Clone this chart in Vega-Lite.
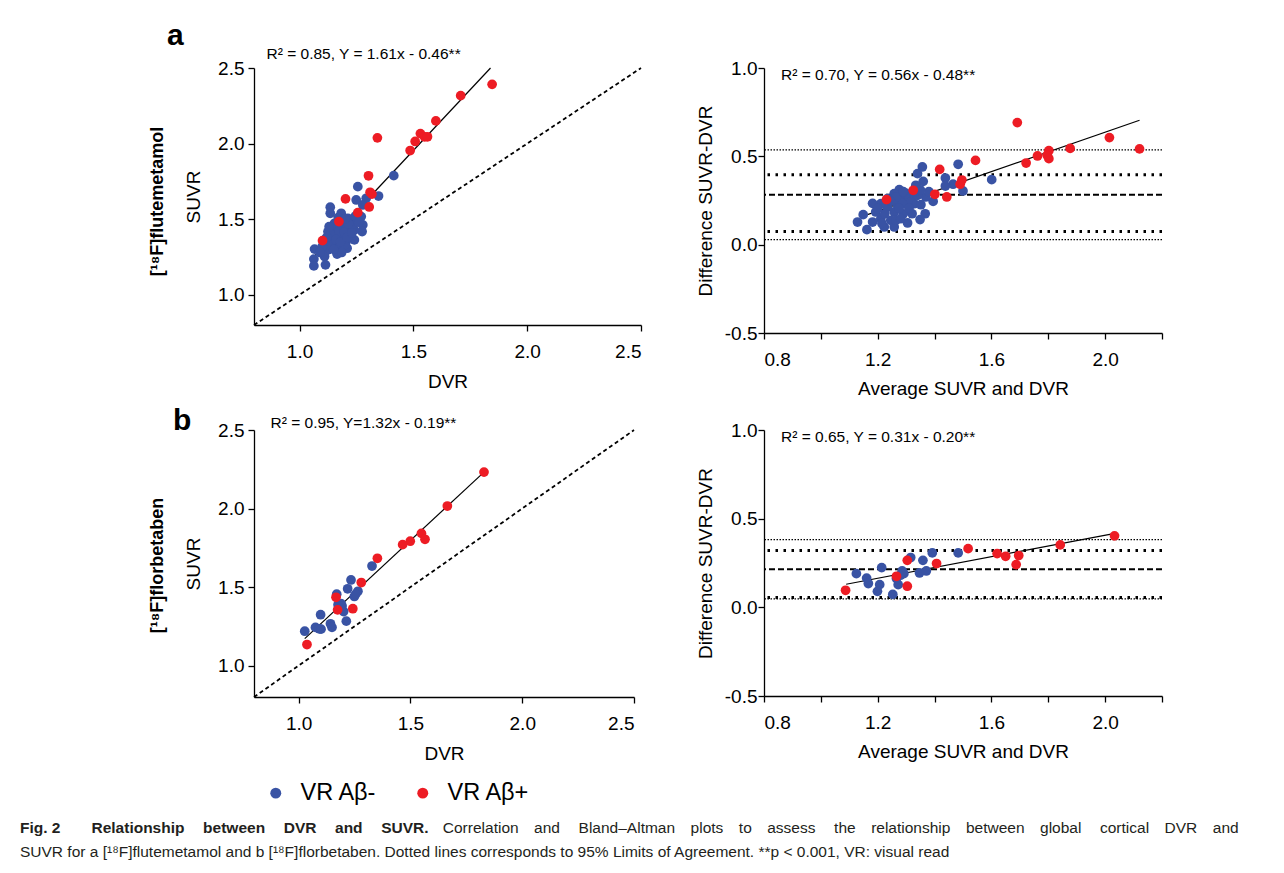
{
  "$schema": "https://vega.github.io/schema/vega-lite/v6.json",
  "background": "white",
  "padding": {"left": 20, "top": 21, "right": 20, "bottom": 8},
  "title": {
    "text": "Fig.\u00a02\u2003\u2003Relationship\u2003\u2009between\u2003\u2009DVR\u2003\u2009and\u2003\u2009SUVR.",
    "subtitle": [
      "\u200b\u2003\u2003\u2003\u2003\u2003\u2003\u2003\u2003\u2003\u2003\u2003\u2003\u2003\u2003\u2003\u2003\u2003\u2003\u2003\u2003\u2003\u2003\u2003\u2003\u2003\u2003\u2003\u00a0Correlation\u2003and\u2003\u2009Bland–Altman\u2003plots\u2003to\u2003assess\u2003\u2009the\u2003relationship\u2003between\u2003global\u2003\u2009cortical\u2003DVR\u2003and",
      "SUVR for a [¹⁸F]flutemetamol and b [¹⁸F]florbetaben. Dotted lines corresponds to 95% Limits of Agreement. **p < 0.001, VR: visual read"
    ],
    "orient": "bottom",
    "anchor": "start",
    "frame": "bounds",
    "dx": -128,
    "offset": 16,
    "font": "Liberation Sans",
    "fontSize": 15.5,
    "fontWeight": "bold",
    "color": "#231f20",
    "subtitleFont": "Liberation Sans",
    "subtitleFontSize": 15.5,
    "subtitleColor": "#231f20",
    "subtitlePadding": -15.5,
    "subtitleLineHeight": 24
  },
  "config": {
    "view": {"stroke": null},
    "font": "Liberation Sans",
    "axis": {
      "grid": false,
      "domainColor": "black",
      "tickColor": "black",
      "labelColor": "black",
      "titleColor": "black",
      "domainWidth": 1.3,
      "tickWidth": 1.3,
      "tickSize": 6,
      "labelFontSize": 19,
      "titleFontSize": 19,
      "titleFontWeight": "normal",
      "labelFont": "Liberation Sans",
      "titleFont": "Liberation Sans"
    }
  },
  "datasets": {
    "identity": [{"dvr": 0.8, "suvr": 0.8}, {"dvr": 2.5, "suvr": 2.5}],
    "regA": [{"dvr": 1.07, "suvr": 1.263}, {"dvr": 1.839, "suvr": 2.5}],
    "regB": [{"dvr": 1.027, "suvr": 1.172}, {"dvr": 1.829, "suvr": 2.232}],
    "regBAA": [{"avg": 1.164, "diff": 0.170}, {"avg": 2.121, "diff": 0.704}],
    "regBAB": [{"avg": 1.089, "diff": 0.130}, {"avg": 2.030, "diff": 0.416}],
    "hlA": [
      {"diff": 0.536, "kind": "ci"}, {"diff": 0.396, "kind": "loa"}, {"diff": 0.283, "kind": "mean"},
      {"diff": 0.075, "kind": "loa"}, {"diff": 0.028, "kind": "ci"}
    ],
    "hlB": [
      {"diff": 0.382, "kind": "ci"}, {"diff": 0.320, "kind": "loa"}, {"diff": 0.215, "kind": "mean"},
      {"diff": 0.055, "kind": "loa"}, {"diff": 0.048, "kind": "ci"}
    ],
    "scatA": [
      {"dvr": 1.414, "suvr": 1.788, "vr": "VR Aβ-"}, {"dvr": 1.256, "suvr": 1.715, "vr": "VR Aβ-"},
      {"dvr": 1.249, "suvr": 1.627, "vr": "VR Aβ-"}, {"dvr": 1.293, "suvr": 1.638, "vr": "VR Aβ-"},
      {"dvr": 1.347, "suvr": 1.653, "vr": "VR Aβ-"}, {"dvr": 1.278, "suvr": 1.594, "vr": "VR Aβ-"},
      {"dvr": 1.135, "suvr": 1.579, "vr": "VR Aβ-"}, {"dvr": 1.135, "suvr": 1.539, "vr": "VR Aβ-"},
      {"dvr": 1.183, "suvr": 1.539, "vr": "VR Aβ-"}, {"dvr": 1.271, "suvr": 1.517, "vr": "VR Aβ-"},
      {"dvr": 1.234, "suvr": 1.495, "vr": "VR Aβ-"}, {"dvr": 1.278, "suvr": 1.462, "vr": "VR Aβ-"},
      {"dvr": 1.198, "suvr": 1.462, "vr": "VR Aβ-"}, {"dvr": 1.275, "suvr": 1.418, "vr": "VR Aβ-"},
      {"dvr": 1.125, "suvr": 1.418, "vr": "VR Aβ-"}, {"dvr": 1.154, "suvr": 1.429, "vr": "VR Aβ-"},
      {"dvr": 1.183, "suvr": 1.396, "vr": "VR Aβ-"}, {"dvr": 1.241, "suvr": 1.363, "vr": "VR Aβ-"},
      {"dvr": 1.205, "suvr": 1.352, "vr": "VR Aβ-"}, {"dvr": 1.147, "suvr": 1.352, "vr": "VR Aβ-"},
      {"dvr": 1.110, "suvr": 1.363, "vr": "VR Aβ-"}, {"dvr": 1.169, "suvr": 1.308, "vr": "VR Aβ-"},
      {"dvr": 1.209, "suvr": 1.308, "vr": "VR Aβ-"}, {"dvr": 1.125, "suvr": 1.297, "vr": "VR Aβ-"},
      {"dvr": 1.066, "suvr": 1.302, "vr": "VR Aβ-"}, {"dvr": 1.110, "suvr": 1.253, "vr": "VR Aβ-"},
      {"dvr": 1.165, "suvr": 1.269, "vr": "VR Aβ-"}, {"dvr": 1.063, "suvr": 1.236, "vr": "VR Aβ-"},
      {"dvr": 1.063, "suvr": 1.191, "vr": "VR Aβ-"}, {"dvr": 1.114, "suvr": 1.198, "vr": "VR Aβ-"},
      {"dvr": 1.147, "suvr": 1.385, "vr": "VR Aβ-"}, {"dvr": 1.169, "suvr": 1.451, "vr": "VR Aβ-"},
      {"dvr": 1.220, "suvr": 1.440, "vr": "VR Aβ-"}, {"dvr": 1.241, "suvr": 1.429, "vr": "VR Aβ-"},
      {"dvr": 1.190, "suvr": 1.495, "vr": "VR Aβ-"}, {"dvr": 1.212, "suvr": 1.506, "vr": "VR Aβ-"},
      {"dvr": 1.154, "suvr": 1.473, "vr": "VR Aβ-"}, {"dvr": 1.234, "suvr": 1.462, "vr": "VR Aβ-"},
      {"dvr": 1.132, "suvr": 1.330, "vr": "VR Aβ-"}, {"dvr": 1.198, "suvr": 1.330, "vr": "VR Aβ-"},
      {"dvr": 1.227, "suvr": 1.396, "vr": "VR Aβ-"}, {"dvr": 1.140, "suvr": 1.400, "vr": "VR Aβ-"},
      {"dvr": 1.175, "suvr": 1.420, "vr": "VR Aβ-"}, {"dvr": 1.160, "suvr": 1.365, "vr": "VR Aβ-"},
      {"dvr": 1.195, "suvr": 1.415, "vr": "VR Aβ-"}, {"dvr": 1.215, "suvr": 1.470, "vr": "VR Aβ-"},
      {"dvr": 1.120, "suvr": 1.380, "vr": "VR Aβ-"}, {"dvr": 1.185, "suvr": 1.280, "vr": "VR Aβ-"},
      {"dvr": 1.150, "suvr": 1.300, "vr": "VR Aβ-"}, {"dvr": 1.100, "suvr": 1.320, "vr": "VR Aβ-"},
      {"dvr": 1.245, "suvr": 1.520, "vr": "VR Aβ-"}, {"dvr": 1.260, "suvr": 1.480, "vr": "VR Aβ-"},
      {"dvr": 1.180, "suvr": 1.350, "vr": "VR Aβ-"}, {"dvr": 1.130, "suvr": 1.450, "vr": "VR Aβ-"},
      {"dvr": 1.210, "suvr": 1.380, "vr": "VR Aβ-"}, {"dvr": 1.090, "suvr": 1.280, "vr": "VR Aβ-"},
      {"dvr": 1.170, "suvr": 1.510, "vr": "VR Aβ-"}, {"dvr": 1.200, "suvr": 1.500, "vr": "VR Aβ-"},
      {"dvr": 1.230, "suvr": 1.410, "vr": "VR Aβ-"},
      {"dvr": 1.846, "suvr": 2.392, "vr": "VR Aβ+"}, {"dvr": 1.708, "suvr": 2.317, "vr": "VR Aβ+"},
      {"dvr": 1.599, "suvr": 2.150, "vr": "VR Aβ+"}, {"dvr": 1.531, "suvr": 2.066, "vr": "VR Aβ+"},
      {"dvr": 1.508, "suvr": 2.014, "vr": "VR Aβ+"}, {"dvr": 1.549, "suvr": 2.045, "vr": "VR Aβ+"},
      {"dvr": 1.562, "suvr": 2.045, "vr": "VR Aβ+"}, {"dvr": 1.486, "suvr": 1.954, "vr": "VR Aβ+"},
      {"dvr": 1.342, "suvr": 2.038, "vr": "VR Aβ+"}, {"dvr": 1.303, "suvr": 1.787, "vr": "VR Aβ+"},
      {"dvr": 1.310, "suvr": 1.678, "vr": "VR Aβ+"}, {"dvr": 1.318, "suvr": 1.666, "vr": "VR Aβ+"},
      {"dvr": 1.306, "suvr": 1.581, "vr": "VR Aβ+"}, {"dvr": 1.202, "suvr": 1.634, "vr": "VR Aβ+"},
      {"dvr": 1.256, "suvr": 1.543, "vr": "VR Aβ+"}, {"dvr": 1.173, "suvr": 1.484, "vr": "VR Aβ+"},
      {"dvr": 1.101, "suvr": 1.358, "vr": "VR Aβ+"}
    ],
    "baA": [
      {"avg": 1.483, "diff": 0.455, "vr": "VR Aβ-"}, {"avg": 1.601, "diff": 0.368, "vr": "VR Aβ-"},
      {"avg": 1.500, "diff": 0.304, "vr": "VR Aβ-"}, {"avg": 1.465, "diff": 0.342, "vr": "VR Aβ-"},
      {"avg": 1.438, "diff": 0.377, "vr": "VR Aβ-"}, {"avg": 1.438, "diff": 0.332, "vr": "VR Aβ-"},
      {"avg": 1.395, "diff": 0.245, "vr": "VR Aβ-"}, {"avg": 1.357, "diff": 0.440, "vr": "VR Aβ-"},
      {"avg": 1.340, "diff": 0.402, "vr": "VR Aβ-"}, {"avg": 1.360, "diff": 0.358, "vr": "VR Aβ-"},
      {"avg": 1.334, "diff": 0.336, "vr": "VR Aβ-"}, {"avg": 1.369, "diff": 0.270, "vr": "VR Aβ-"},
      {"avg": 1.367, "diff": 0.175, "vr": "VR Aβ-"}, {"avg": 1.349, "diff": 0.142, "vr": "VR Aβ-"},
      {"avg": 1.305, "diff": 0.123, "vr": "VR Aβ-"}, {"avg": 1.321, "diff": 0.175, "vr": "VR Aβ-"},
      {"avg": 1.290, "diff": 0.175, "vr": "VR Aβ-"}, {"avg": 1.276, "diff": 0.311, "vr": "VR Aβ-"},
      {"avg": 1.258, "diff": 0.289, "vr": "VR Aβ-"}, {"avg": 1.281, "diff": 0.260, "vr": "VR Aβ-"},
      {"avg": 1.270, "diff": 0.223, "vr": "VR Aβ-"}, {"avg": 1.258, "diff": 0.185, "vr": "VR Aβ-"},
      {"avg": 1.246, "diff": 0.138, "vr": "VR Aβ-"}, {"avg": 1.258, "diff": 0.100, "vr": "VR Aβ-"},
      {"avg": 1.223, "diff": 0.100, "vr": "VR Aβ-"}, {"avg": 1.211, "diff": 0.147, "vr": "VR Aβ-"},
      {"avg": 1.234, "diff": 0.213, "vr": "VR Aβ-"}, {"avg": 1.211, "diff": 0.232, "vr": "VR Aβ-"},
      {"avg": 1.182, "diff": 0.234, "vr": "VR Aβ-"}, {"avg": 1.193, "diff": 0.185, "vr": "VR Aβ-"},
      {"avg": 1.182, "diff": 0.128, "vr": "VR Aβ-"}, {"avg": 1.162, "diff": 0.085, "vr": "VR Aβ-"},
      {"avg": 1.149, "diff": 0.170, "vr": "VR Aβ-"}, {"avg": 1.129, "diff": 0.128, "vr": "VR Aβ-"},
      {"avg": 1.317, "diff": 0.270, "vr": "VR Aβ-"}, {"avg": 1.328, "diff": 0.232, "vr": "VR Aβ-"},
      {"avg": 1.352, "diff": 0.226, "vr": "VR Aβ-"}, {"avg": 1.340, "diff": 0.279, "vr": "VR Aβ-"},
      {"avg": 1.305, "diff": 0.242, "vr": "VR Aβ-"}, {"avg": 1.287, "diff": 0.232, "vr": "VR Aβ-"},
      {"avg": 1.234, "diff": 0.260, "vr": "VR Aβ-"}, {"avg": 1.264, "diff": 0.138, "vr": "VR Aβ-"},
      {"avg": 1.281, "diff": 0.147, "vr": "VR Aβ-"}, {"avg": 1.300, "diff": 0.290, "vr": "VR Aβ-"},
      {"avg": 1.265, "diff": 0.270, "vr": "VR Aβ-"}, {"avg": 1.245, "diff": 0.245, "vr": "VR Aβ-"},
      {"avg": 1.225, "diff": 0.175, "vr": "VR Aβ-"}, {"avg": 1.200, "diff": 0.205, "vr": "VR Aβ-"},
      {"avg": 1.310, "diff": 0.205, "vr": "VR Aβ-"}, {"avg": 1.275, "diff": 0.205, "vr": "VR Aβ-"},
      {"avg": 1.290, "diff": 0.300, "vr": "VR Aβ-"}, {"avg": 1.330, "diff": 0.300, "vr": "VR Aβ-"},
      {"avg": 1.215, "diff": 0.120, "vr": "VR Aβ-"}, {"avg": 1.380, "diff": 0.300, "vr": "VR Aβ-"},
      {"avg": 1.350, "diff": 0.310, "vr": "VR Aβ-"},
      {"avg": 1.691, "diff": 0.691, "vr": "VR Aβ+"}, {"avg": 2.015, "diff": 0.606, "vr": "VR Aβ+"},
      {"avg": 2.121, "diff": 0.542, "vr": "VR Aβ+"}, {"avg": 1.877, "diff": 0.545, "vr": "VR Aβ+"},
      {"avg": 1.802, "diff": 0.532, "vr": "VR Aβ+"}, {"avg": 1.796, "diff": 0.506, "vr": "VR Aβ+"},
      {"avg": 1.802, "diff": 0.487, "vr": "VR Aβ+"}, {"avg": 1.762, "diff": 0.502, "vr": "VR Aβ+"},
      {"avg": 1.722, "diff": 0.462, "vr": "VR Aβ+"}, {"avg": 1.544, "diff": 0.477, "vr": "VR Aβ+"},
      {"avg": 1.418, "diff": 0.426, "vr": "VR Aβ+"}, {"avg": 1.496, "diff": 0.366, "vr": "VR Aβ+"},
      {"avg": 1.490, "diff": 0.342, "vr": "VR Aβ+"}, {"avg": 1.401, "diff": 0.285, "vr": "VR Aβ+"},
      {"avg": 1.443, "diff": 0.270, "vr": "VR Aβ+"}, {"avg": 1.325, "diff": 0.308, "vr": "VR Aβ+"},
      {"avg": 1.231, "diff": 0.255, "vr": "VR Aβ+"}
    ],
    "scatB": [
      {"dvr": 1.328, "suvr": 1.634, "vr": "VR Aβ-"}, {"dvr": 1.234, "suvr": 1.545, "vr": "VR Aβ-"},
      {"dvr": 1.219, "suvr": 1.489, "vr": "VR Aβ-"}, {"dvr": 1.265, "suvr": 1.473, "vr": "VR Aβ-"},
      {"dvr": 1.249, "suvr": 1.440, "vr": "VR Aβ-"}, {"dvr": 1.170, "suvr": 1.455, "vr": "VR Aβ-"},
      {"dvr": 1.189, "suvr": 1.395, "vr": "VR Aβ-"}, {"dvr": 1.179, "suvr": 1.368, "vr": "VR Aβ-"},
      {"dvr": 1.201, "suvr": 1.344, "vr": "VR Aβ-"}, {"dvr": 1.213, "suvr": 1.283, "vr": "VR Aβ-"},
      {"dvr": 1.098, "suvr": 1.324, "vr": "VR Aβ-"}, {"dvr": 1.142, "suvr": 1.266, "vr": "VR Aβ-"},
      {"dvr": 1.149, "suvr": 1.243, "vr": "VR Aβ-"}, {"dvr": 1.075, "suvr": 1.243, "vr": "VR Aβ-"},
      {"dvr": 1.092, "suvr": 1.234, "vr": "VR Aβ-"}, {"dvr": 1.100, "suvr": 1.232, "vr": "VR Aβ-"},
      {"dvr": 1.027, "suvr": 1.219, "vr": "VR Aβ-"}, {"dvr": 1.176, "suvr": 1.388, "vr": "VR Aβ-"},
      {"dvr": 1.194, "suvr": 1.379, "vr": "VR Aβ-"}, {"dvr": 1.255, "suvr": 1.455, "vr": "VR Aβ-"},
      {"dvr": 1.829, "suvr": 2.232, "vr": "VR Aβ+"}, {"dvr": 1.665, "suvr": 2.016, "vr": "VR Aβ+"},
      {"dvr": 1.549, "suvr": 1.842, "vr": "VR Aβ+"}, {"dvr": 1.565, "suvr": 1.804, "vr": "VR Aβ+"},
      {"dvr": 1.499, "suvr": 1.792, "vr": "VR Aβ+"}, {"dvr": 1.465, "suvr": 1.770, "vr": "VR Aβ+"},
      {"dvr": 1.352, "suvr": 1.683, "vr": "VR Aβ+"}, {"dvr": 1.280, "suvr": 1.529, "vr": "VR Aβ+"},
      {"dvr": 1.167, "suvr": 1.435, "vr": "VR Aβ+"}, {"dvr": 1.174, "suvr": 1.355, "vr": "VR Aβ+"},
      {"dvr": 1.242, "suvr": 1.362, "vr": "VR Aβ+"}, {"dvr": 1.037, "suvr": 1.134, "vr": "VR Aβ+"}
    ],
    "baB": [
      {"avg": 1.125, "diff": 0.190, "vr": "VR Aβ-"}, {"avg": 1.214, "diff": 0.224, "vr": "VR Aβ-"},
      {"avg": 1.161, "diff": 0.165, "vr": "VR Aβ-"}, {"avg": 1.167, "diff": 0.134, "vr": "VR Aβ-"},
      {"avg": 1.207, "diff": 0.128, "vr": "VR Aβ-"}, {"avg": 1.199, "diff": 0.090, "vr": "VR Aβ-"},
      {"avg": 1.253, "diff": 0.073, "vr": "VR Aβ-"}, {"avg": 1.272, "diff": 0.128, "vr": "VR Aβ-"},
      {"avg": 1.266, "diff": 0.162, "vr": "VR Aβ-"}, {"avg": 1.286, "diff": 0.205, "vr": "VR Aβ-"},
      {"avg": 1.280, "diff": 0.181, "vr": "VR Aβ-"}, {"avg": 1.316, "diff": 0.281, "vr": "VR Aβ-"},
      {"avg": 1.359, "diff": 0.265, "vr": "VR Aβ-"}, {"avg": 1.347, "diff": 0.194, "vr": "VR Aβ-"},
      {"avg": 1.371, "diff": 0.205, "vr": "VR Aβ-"}, {"avg": 1.392, "diff": 0.307, "vr": "VR Aβ-"},
      {"avg": 1.483, "diff": 0.307, "vr": "VR Aβ-"}, {"avg": 1.292, "diff": 0.190, "vr": "VR Aβ-"},
      {"avg": 2.033, "diff": 0.403, "vr": "VR Aβ+"}, {"avg": 1.842, "diff": 0.352, "vr": "VR Aβ+"},
      {"avg": 1.696, "diff": 0.292, "vr": "VR Aβ+"}, {"avg": 1.687, "diff": 0.241, "vr": "VR Aβ+"},
      {"avg": 1.650, "diff": 0.288, "vr": "VR Aβ+"}, {"avg": 1.620, "diff": 0.303, "vr": "VR Aβ+"},
      {"avg": 1.518, "diff": 0.331, "vr": "VR Aβ+"}, {"avg": 1.407, "diff": 0.247, "vr": "VR Aβ+"},
      {"avg": 1.304, "diff": 0.265, "vr": "VR Aβ+"}, {"avg": 1.304, "diff": 0.119, "vr": "VR Aβ+"},
      {"avg": 1.266, "diff": 0.175, "vr": "VR Aβ+"}, {"avg": 1.087, "diff": 0.096, "vr": "VR Aβ+"}
    ]
  },
  "columns": 2,
  "spacing": {"row": 97, "column": 123},
  "bounds": "flush",
  "concat": [
    {
      "width": 387,
      "height": 257,
      "title": {"text": "a", "anchor": "start", "frame": "group", "dx": -87, "offset": -5, "fontSize": 30, "fontWeight": "bold", "font": "Liberation Sans", "color": "black"},
      "layer": [
        {
          "encoding": {
            "x": {"field": "dvr", "type": "quantitative", "scale": {"domain": [0.8, 2.5], "nice": false, "zero": false}, "axis": {"values": [1, 1.5, 2, 2.5], "format": ".1f", "title": "DVR", "labelPadding": 11, "titlePadding": 11}},
            "y": {"field": "suvr", "type": "quantitative", "scale": {"domain": [0.8, 2.5], "nice": false, "zero": false}, "axis": {"values": [1, 1.5, 2, 2.5], "format": ".1f", "title": "SUVR", "labelPadding": 4, "titlePadding": 14}}
          },
          "layer": [
            {"data": {"name": "identity"}, "mark": {"type": "line", "color": "black", "strokeDash": [4, 3], "strokeWidth": 1.8}},
            {"data": {"name": "regA"}, "mark": {"type": "line", "color": "black", "strokeWidth": 1.2}},
            {
              "data": {"name": "scatA"},
              "mark": {"type": "circle", "size": 95, "opacity": 1},
              "encoding": {
                "color": {"field": "vr", "type": "nominal", "scale": {"domain": ["VR Aβ-", "VR Aβ+"], "range": ["#3953a4", "#ed1c24"]},
                  "legend": {"title": null, "orient": "none", "legendX": 10, "legendY": 713, "direction": "horizontal", "labelFontSize": 23.5, "labelFont": "Liberation Sans", "labelColor": "black", "symbolSize": 120, "symbolType": "circle", "columnPadding": 34, "labelOffset": 13, "symbolOpacity": 1}}
              }
            }
          ]
        },
        {
          "data": {"name": "identity"},
          "mark": {"type": "point", "opacity": 0},
          "encoding": {
            "x": {"field": "dvr", "type": "quantitative", "scale": {"domain": [0.8, 2.5], "nice": false, "zero": false},
              "axis": {"orient": "top", "title": "R² = 0.85, Y = 1.61x - 0.46**", "labels": false, "ticks": false, "domain": false, "titleX": 12, "titleY": -10, "titleAlign": "left", "titleAnchor": "start", "titleBaseline": "alphabetic", "titleFontSize": 15.5}},
            "y": {"field": "suvr", "type": "quantitative", "scale": {"domain": [0.8, 2.5], "nice": false, "zero": false},
              "axis": {"orient": "left", "title": "[¹⁸F]flutemetamol", "labels": false, "ticks": false, "domain": false, "titleX": -92, "titleY": 133, "titleAngle": 270, "titleAlign": "center", "titleBaseline": "alphabetic", "titleFontWeight": "bold", "titleFontSize": 18}}
          }
        }
      ],
      "resolve": {"scale": {"x": "independent", "y": "independent"}}
    },
    {
      "width": 398,
      "height": 265,
      "title": {"text": "R² = 0.70, Y = 0.56x - 0.48**", "anchor": "start", "frame": "group", "dx": 17, "offset": -24, "fontSize": 15.5, "fontWeight": "normal", "font": "Liberation Sans", "color": "black"},
      "layer": [
        {
          "data": {"name": "hlA"},
          "encoding": {
            "y": {"field": "diff", "type": "quantitative", "scale": {"domain": [-0.5, 1.0], "nice": false, "zero": false}, "axis": {"values": [-0.5, 0, 0.5, 1.0], "labelExpr": "replace(format(datum.value, '.1f'), '−', '-')", "title": "Difference SUVR-DVR", "labelPadding": 1, "titlePadding": 9}}
          },
          "layer": [
            {"transform": [{"filter": "datum.kind == 'ci'"}], "mark": {"type": "rule", "color": "black", "strokeDash": [1.5, 1.5], "strokeWidth": 1.3}},
            {"transform": [{"filter": "datum.kind == 'loa'"}], "mark": {"type": "rule", "color": "black", "strokeDash": [2.5, 5.5], "strokeWidth": 3}},
            {"transform": [{"filter": "datum.kind == 'mean'"}], "mark": {"type": "rule", "color": "black", "strokeDash": [6, 3], "strokeWidth": 2}}
          ]
        },
        {
          "encoding": {
            "x": {"field": "avg", "type": "quantitative", "scale": {"domain": [0.8, 2.2], "nice": false, "zero": false}, "axis": {"values": [0.8, 1.0, 1.2, 1.4, 1.6, 1.8, 2.0, 2.2], "labelExpr": "round(datum.value*10) % 4 == 0 ? format(datum.value, '.1f') : ''", "title": "Average SUVR and DVR", "labelPadding": 11, "titlePadding": 10}},
            "y": {"field": "diff", "type": "quantitative", "scale": {"domain": [-0.5, 1.0], "nice": false, "zero": false}, "axis": {"values": [-0.5, 0, 0.5, 1.0], "labelExpr": "replace(format(datum.value, '.1f'), '−', '-')", "title": "Difference SUVR-DVR", "labelPadding": 1, "titlePadding": 9}}
          },
          "layer": [
            {"data": {"name": "regBAA"}, "mark": {"type": "line", "color": "black", "strokeWidth": 1.2}},
            {
              "data": {"name": "baA"},
              "mark": {"type": "circle", "size": 95, "opacity": 1},
              "encoding": {
                "color": {"field": "vr", "type": "nominal", "scale": {"domain": ["VR Aβ-", "VR Aβ+"], "range": ["#3953a4", "#ed1c24"]},
                  "legend": {"title": null, "orient": "none", "legendX": 10, "legendY": 713, "direction": "horizontal", "labelFontSize": 23.5, "labelFont": "Liberation Sans", "labelColor": "black", "symbolSize": 120, "symbolType": "circle", "columnPadding": 34, "labelOffset": 13, "symbolOpacity": 1}}
              }
            }
          ]
        }
      ]
    },
    {
      "width": 380,
      "height": 267,
      "title": {"text": "b", "anchor": "start", "frame": "group", "dx": -81, "offset": -21, "fontSize": 30, "fontWeight": "bold", "font": "Liberation Sans", "color": "black"},
      "layer": [
        {
          "encoding": {
            "x": {"field": "dvr", "type": "quantitative", "scale": {"domain": [0.8, 2.5], "nice": false, "zero": false}, "axis": {"values": [1, 1.5, 2, 2.5], "format": ".1f", "title": "DVR", "labelPadding": 11, "titlePadding": 11}},
            "y": {"field": "suvr", "type": "quantitative", "scale": {"domain": [0.8, 2.5], "nice": false, "zero": false}, "axis": {"values": [1, 1.5, 2, 2.5], "format": ".1f", "title": "SUVR", "labelPadding": 4, "titlePadding": 14}}
          },
          "layer": [
            {"data": {"name": "identity"}, "mark": {"type": "line", "color": "black", "strokeDash": [4, 3], "strokeWidth": 1.8}},
            {"data": {"name": "regB"}, "mark": {"type": "line", "color": "black", "strokeWidth": 1.2}},
            {
              "data": {"name": "scatB"},
              "mark": {"type": "circle", "size": 95, "opacity": 1},
              "encoding": {
                "color": {"field": "vr", "type": "nominal", "scale": {"domain": ["VR Aβ-", "VR Aβ+"], "range": ["#3953a4", "#ed1c24"]},
                  "legend": {"title": null, "orient": "none", "legendX": 10, "legendY": 713, "direction": "horizontal", "labelFontSize": 23.5, "labelFont": "Liberation Sans", "labelColor": "black", "symbolSize": 120, "symbolType": "circle", "columnPadding": 34, "labelOffset": 13, "symbolOpacity": 1}}
              }
            }
          ]
        },
        {
          "data": {"name": "identity"},
          "mark": {"type": "point", "opacity": 0},
          "encoding": {
            "x": {"field": "dvr", "type": "quantitative", "scale": {"domain": [0.8, 2.5], "nice": false, "zero": false},
              "axis": {"orient": "top", "title": "R² = 0.95, Y=1.32x - 0.19**", "labels": false, "ticks": false, "domain": false, "titleX": 16, "titleY": -3, "titleAlign": "left", "titleAnchor": "start", "titleBaseline": "alphabetic", "titleFontSize": 15.5}},
            "y": {"field": "suvr", "type": "quantitative", "scale": {"domain": [0.8, 2.5], "nice": false, "zero": false},
              "axis": {"orient": "left", "title": "[¹⁸F]florbetaben", "labels": false, "ticks": false, "domain": false, "titleX": -92, "titleY": 135, "titleAngle": 270, "titleAlign": "center", "titleBaseline": "alphabetic", "titleFontWeight": "bold", "titleFontSize": 18}}
          }
        }
      ],
      "resolve": {"scale": {"x": "independent", "y": "independent"}}
    },
    {
      "width": 398,
      "height": 266,
      "title": {"text": "R² = 0.65, Y = 0.31x - 0.20**", "anchor": "start", "frame": "group", "dx": 17, "offset": -24, "fontSize": 15.5, "fontWeight": "normal", "font": "Liberation Sans", "color": "black"},
      "layer": [
        {
          "data": {"name": "hlB"},
          "encoding": {
            "y": {"field": "diff", "type": "quantitative", "scale": {"domain": [-0.5, 1.0], "nice": false, "zero": false}, "axis": {"values": [-0.5, 0, 0.5, 1.0], "labelExpr": "replace(format(datum.value, '.1f'), '−', '-')", "title": "Difference SUVR-DVR", "labelPadding": 1, "titlePadding": 9}}
          },
          "layer": [
            {"transform": [{"filter": "datum.kind == 'ci'"}], "mark": {"type": "rule", "color": "black", "strokeDash": [1.5, 1.5], "strokeWidth": 1.3}},
            {"transform": [{"filter": "datum.kind == 'loa'"}], "mark": {"type": "rule", "color": "black", "strokeDash": [2.5, 5.5], "strokeWidth": 3}},
            {"transform": [{"filter": "datum.kind == 'mean'"}], "mark": {"type": "rule", "color": "black", "strokeDash": [6, 3], "strokeWidth": 2}}
          ]
        },
        {
          "encoding": {
            "x": {"field": "avg", "type": "quantitative", "scale": {"domain": [0.8, 2.2], "nice": false, "zero": false}, "axis": {"values": [0.8, 1.0, 1.2, 1.4, 1.6, 1.8, 2.0, 2.2], "labelExpr": "round(datum.value*10) % 4 == 0 ? format(datum.value, '.1f') : ''", "title": "Average SUVR and DVR", "labelPadding": 11, "titlePadding": 10}},
            "y": {"field": "diff", "type": "quantitative", "scale": {"domain": [-0.5, 1.0], "nice": false, "zero": false}, "axis": {"values": [-0.5, 0, 0.5, 1.0], "labelExpr": "replace(format(datum.value, '.1f'), '−', '-')", "title": "Difference SUVR-DVR", "labelPadding": 1, "titlePadding": 9}}
          },
          "layer": [
            {"data": {"name": "regBAB"}, "mark": {"type": "line", "color": "black", "strokeWidth": 1.2}},
            {
              "data": {"name": "baB"},
              "mark": {"type": "circle", "size": 95, "opacity": 1},
              "encoding": {
                "color": {"field": "vr", "type": "nominal", "scale": {"domain": ["VR Aβ-", "VR Aβ+"], "range": ["#3953a4", "#ed1c24"]},
                  "legend": {"title": null, "orient": "none", "legendX": 10, "legendY": 713, "direction": "horizontal", "labelFontSize": 23.5, "labelFont": "Liberation Sans", "labelColor": "black", "symbolSize": 120, "symbolType": "circle", "columnPadding": 34, "labelOffset": 13, "symbolOpacity": 1}}
              }
            }
          ]
        }
      ]
    }
  ]
}
